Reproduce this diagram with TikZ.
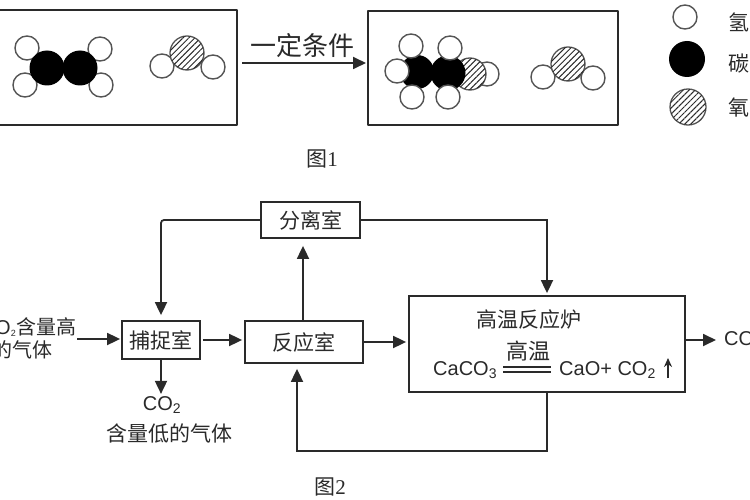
\documentclass[tikz,border=0pt]{standalone}
\usepackage{fontspec}
\setmainfont{Liberation Sans}
\newfontfamily\cjk{Noto Sans CJK SC}
\newfontfamily\lserif{Liberation Serif}
\usetikzlibrary{arrows.meta,patterns.meta,calc}
\definecolor{ink}{HTML}{2A2A2A}
\tikzset{
  panel/.style={draw=ink,line width=1.8pt,line join=round},
  chamber/.style={draw=ink,line width=1.8pt,inner sep=0pt,rectangle},
  flow/.style={draw=ink,line width=1.8pt,-{Triangle[length=13pt,width=12pt]}},
  link/.style={draw=ink,line width=1.8pt},
  hatom/.style={draw=ink!80,line width=1.4pt,fill=white},
  catom/.style={fill=black},
  oatom/.style={draw=ink!80,line width=1.3pt,fill=white,postaction={pattern={Lines[angle=45,distance=4.2pt,line width=1pt]},pattern color=ink}},
  lab/.style={inner sep=0pt,text=ink,font=\cjk\fontsize{21}{23}\selectfont,align=center},
  eq/.style={inner sep=0pt,text=ink,font=\fontsize{20}{22}\selectfont},
}
\begin{document}
\begin{tikzpicture}[x=1pt,y=-1pt]
\useasboundingbox (0,0) rectangle (750,500);
\clip (0,0) rectangle (750,500);
\fill[white] (0,0) rectangle (750,500);

% panels of figure 1
\draw[panel] (-6,10) rectangle (237,125);
\draw[panel] (368,11) rectangle (618,125);

% left panel molecules
\foreach \p in {(27,48),(100,49),(25,85),(101,85)} \draw[hatom] \p circle (12);
\fill[catom] (47,68) circle (17.5);
\fill[catom] (80,68) circle (17.5);
\draw[hatom] (162,66) circle (12);
\draw[hatom] (213,67) circle (12);
\draw[oatom] (187,53) circle (17);

% right panel molecules
\draw[hatom] (487,74) circle (12);
\draw[oatom] (470,74) circle (16);
\fill[catom] (417,72) circle (17);
\fill[catom] (448,73) circle (17.5);
\foreach \p in {(411,46),(450,48),(397,71),(412,97),(448,97)} \draw[hatom] \p circle (12);
\draw[hatom] (543,77) circle (12);
\draw[hatom] (593,78) circle (12);
\draw[oatom] (568,64) circle (17);

% legend
\draw[hatom] (685,17) circle (12);
\fill[catom] (687,59) circle (18);
\draw[oatom] (688,107) circle (18);
\node[lab,anchor=west] (lh) at (728,22) {氢};
\node[lab,anchor=west] (lc) at (728,64) {碳};
\node[lab,anchor=west] (lo) at (728,108) {氧};

% reaction arrow of figure 1
\coordinate (ra) at (242,63);
\coordinate (rb) at (366,63);
\draw[flow] (ra) -- (rb);
\node[lab,font=\cjk\fontsize{26}{28}\selectfont] (cond) at (302,46) {一定条件};
\node[lab] (fig1) at (322,159) {图{\lserif 1}};

% flow chart chambers
\node[chamber,minimum width=99pt,minimum height=36pt,lab] (sep) at (310.5,220) {分离室};
\node[chamber,minimum width=78pt,minimum height=38pt,lab] (capt) at (161,340) {捕捉室};
\node[chamber,minimum width=118pt,minimum height=42pt,lab] (react) at (304,342) {反应室};
\node[chamber,minimum width=276pt,minimum height=96pt] (furn) at (547,344) {};

% furnace contents
\node[lab] (ftitle) at (529,320) {高温反应炉};
\node[lab,font=\cjk\fontsize{22}{24}\selectfont] (fcond) at (528,351) {高温};
\node[eq,anchor=west] (eqa) at (433,370) {CaCO\textsubscript{3}};
\coordinate (dla) at (503,367);
\coordinate (dlb) at (551,367);
\coordinate (dlc) at (503,372);
\coordinate (dld) at (551,372);
\draw[link] (dla) -- (dlb);
\draw[link] (dlc) -- (dld);
\node[eq,anchor=west] (eqb) at (559,370) {CaO+ CO\textsubscript{2}};
\coordinate (upa) at (668,378);
\coordinate (upb) at (668,358);
\draw[draw=ink,line width=1.8pt,-{Stealth[length=9pt,width=8pt]}] (upa) -- (upb);

% outer labels
\node[lab,anchor=east,align=right,font=\cjk\fontsize{20}{22}\selectfont] (inp1) at (77,327) {{\fontspec{Liberation Sans}CO\raisebox{-2pt}{\fontsize{9}{9}\selectfont 2}\kern1pt}含量高};
\node[lab,anchor=east,font=\cjk\fontsize{20}{22}\selectfont] (inp2) at (53,350) {的气体};
\node[eq] (lowco) at (162,405) {CO\textsubscript{2}};
\node[lab] (lowtxt) at (169,434) {含量低的气体};
\node[eq,anchor=west] (outco) at (724,340) {CO\textsubscript{2}};
\node[lab] (fig2) at (330,487) {图{\lserif 2}};

% connectors
\coordinate (inpend) at (77,339);
\coordinate (outend) at (716,340);
\coordinate (ret) at (297,451);
\draw[flow,shorten >=1pt] (inpend) -- (inpend -| capt.west);
\draw[flow,shorten <=2pt,shorten >=2pt] (capt.east) -- (capt.east -| react.west);
\draw[flow,shorten >=2pt] (react.east) -- (react.east -| furn.west);
\draw[flow] (furn.east |- outend) -- (outend);
\draw[flow,shorten >=2pt] (capt.south) -- ++(0,36);
\draw[flow,shorten >=7pt] (react.north -| 303,0) -- (sep.south -| 303,0);
\draw[flow,shorten >=5pt,rounded corners=3pt] (sep.west) -| (capt.north);
\draw[flow,shorten >=2pt] (sep.east) -| (furn.north);
\draw[flow,shorten >=5pt] (furn.south) |- (ret) -- (ret |- react.south);
\end{tikzpicture}
\end{document}
